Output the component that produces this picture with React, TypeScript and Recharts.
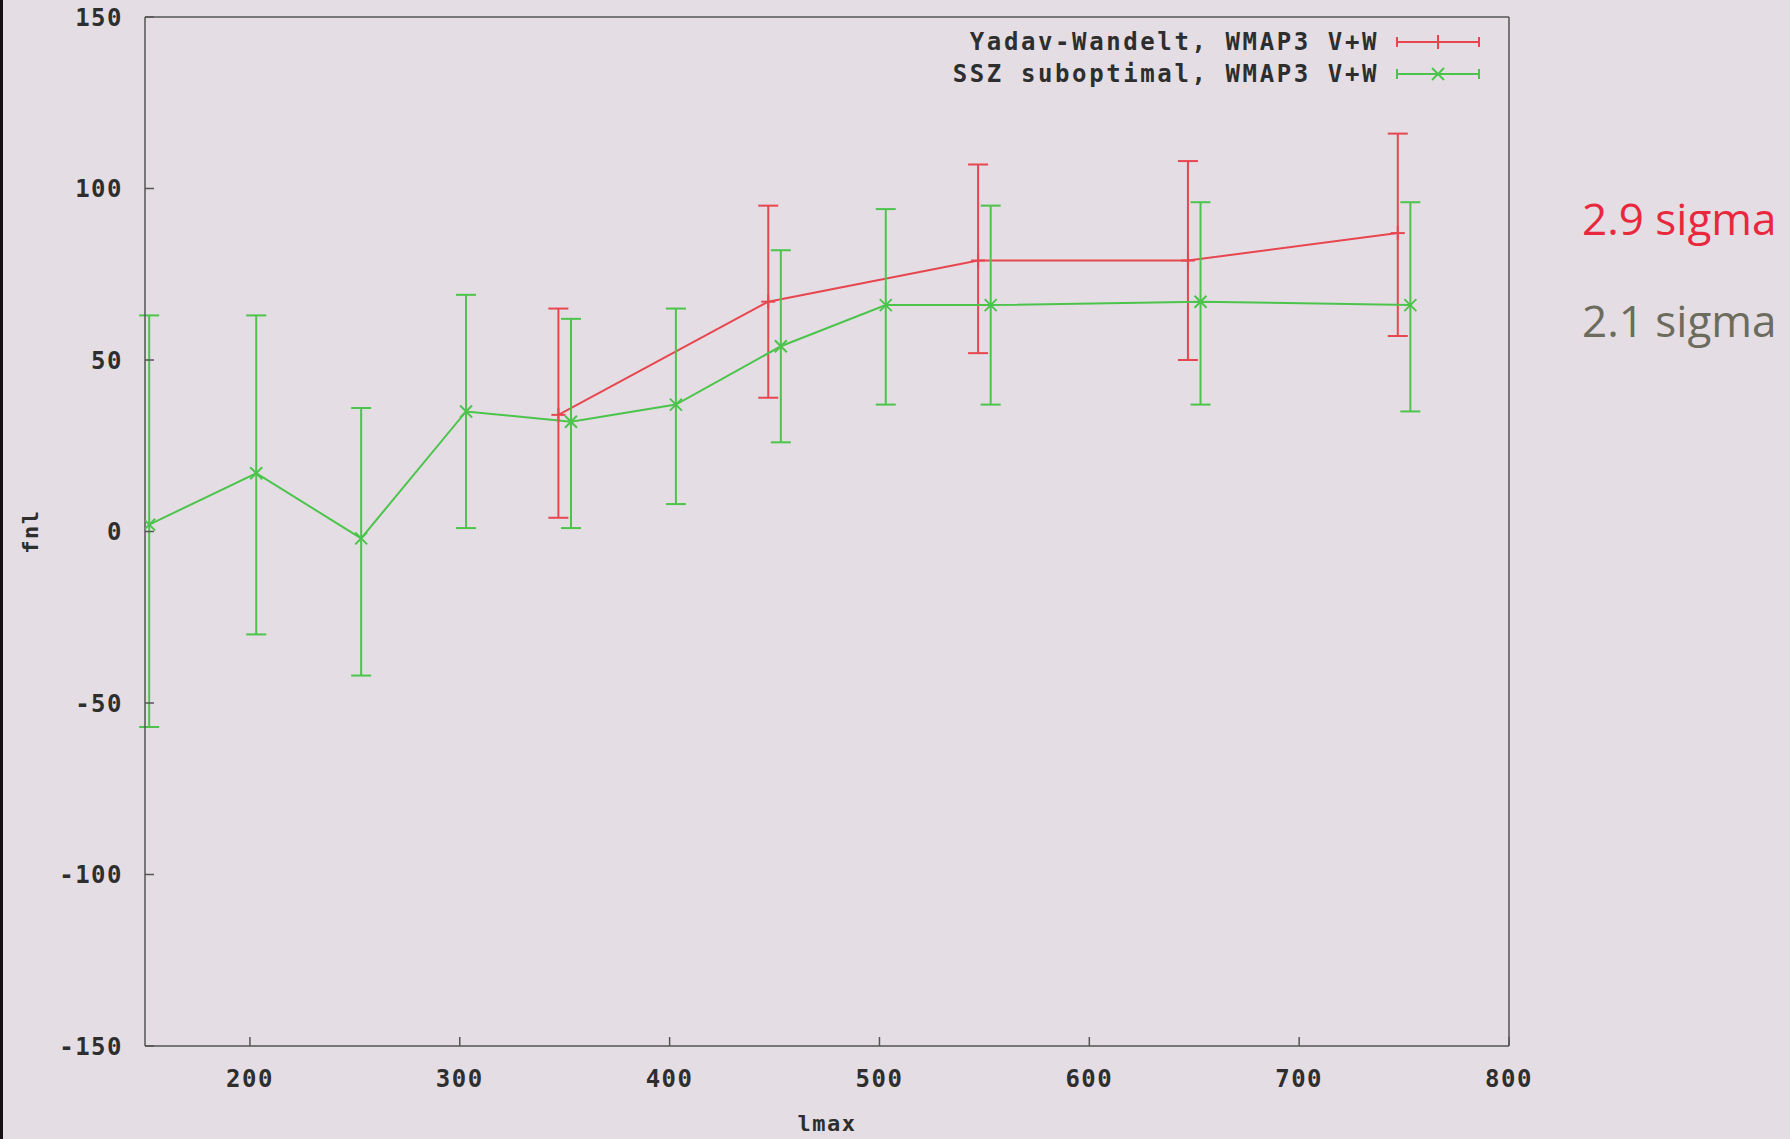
import { ComposedChart, Line, XAxis, YAxis, ErrorBar, Legend } from 'recharts'

// Yadav-Wandelt estimator (red)
const YW_LMAX = [347, 447, 547, 647, 747]
const YW_FNL = [34, 67, 79, 79, 87]
const YW_LOW = [4, 39, 52, 50, 57]
const YW_HIGH = [65, 95, 107, 108, 116]

// SSZ suboptimal estimator (green)
const SSZ_LMAX = [152, 203, 253, 303, 353, 403, 453, 503, 553, 653, 753]
const SSZ_FNL = [2, 17, -2, 35, 32, 37, 54, 66, 66, 67, 66]
const SSZ_LOW = [-57, -30, -42, 1, 1, 8, 26, 37, 37, 37, 35]
const SSZ_HIGH = [63, 63, 36, 69, 62, 65, 82, 94, 95, 96, 96]

const X_TICKS = [200, 300, 400, 500, 600, 700, 800]
const Y_TICKS = [-150, -100, -50, 0, 50, 100, 150]

const YW_NAME = 'Yadav-Wandelt, WMAP3 V+W'
const SSZ_NAME = 'SSZ suboptimal, WMAP3 V+W'

const RED = '#e8464f'
const GREEN = '#4cc44c'
const BG = '#e4dee4'
const AXIS = '#555'
const MONO = '"DejaVu Sans Mono", "Liberation Mono", monospace'

const build = (xs: number[], ys: number[], lo: number[], hi: number[]) =>
  xs.map((x, i) => ({ lmax: x, fnl: ys[i], err: [ys[i] - lo[i], hi[i] - ys[i]] }))

const ywData = build(YW_LMAX, YW_FNL, YW_LOW, YW_HIGH)
const sszData = build(SSZ_LMAX, SSZ_FNL, SSZ_LOW, SSZ_HIGH)

const marker = (color: string, diag: boolean) => (p: any) => {
  const { cx, cy, index } = p
  const s = diag ? 6 : 7
  if (diag) {
    return (
      <g key={index}>
        <line x1={cx - s} y1={cy - s} x2={cx + s} y2={cy + s} stroke={color} strokeWidth={2} />
        <line x1={cx - s} y1={cy + s} x2={cx + s} y2={cy - s} stroke={color} strokeWidth={2} />
      </g>
    )
  }
  return (
    <g key={index}>
      <line x1={cx - s} y1={cy} x2={cx + s} y2={cy} stroke={color} strokeWidth={2} />
      <line x1={cx} y1={cy - s} x2={cx} y2={cy + s} stroke={color} strokeWidth={2} />
    </g>
  )
}

const tickStyle = { fontFamily: MONO, fontWeight: 700, fontSize: 24, fill: '#2e2e2e', letterSpacing: 1.5 }

function LegendSample({ color, diag }: { color: string; diag: boolean }) {
  return (
    <svg width={84} height={20} style={{ marginLeft: 17 }}>
      <line x1={1} y1={10} x2={83} y2={10} stroke={color} strokeWidth={2} />
      <line x1={1} y1={5} x2={1} y2={15} stroke={color} strokeWidth={2} />
      <line x1={83} y1={5} x2={83} y2={15} stroke={color} strokeWidth={2} />
      {marker(color, diag)({ cx: 42, cy: 10, index: 0 })}
    </svg>
  )
}

function ChartLegend() {
  const rows = [
    { name: YW_NAME, color: RED, diag: false },
    { name: SSZ_NAME, color: GREEN, diag: true },
  ]
  return (
    <div>
      {rows.map((r) => (
        <div key={r.name} style={{ display: 'flex', justifyContent: 'flex-end', alignItems: 'center', height: 32 }}>
          <span style={{ fontFamily: MONO, fontWeight: 700, fontSize: 24, letterSpacing: 2.6, color: '#2e2e2e', whiteSpace: 'pre' }}>
            {r.name}
          </span>
          <LegendSample color={r.color} diag={r.diag} />
        </div>
      ))}
    </div>
  )
}

export default function App() {
  return (
    <div style={{ position: 'fixed', left: 0, top: 0, width: 1790, height: 1139, background: BG, overflow: 'hidden' }}>
      <div style={{ position: 'absolute', left: 0, top: 0, width: 3, height: 1139, background: '#111' }} />
      <ComposedChart width={1790} height={1139} margin={{ top: 16, right: 280, bottom: 6, left: 45 }}>
        <XAxis
          dataKey="lmax"
          type="number"
          domain={[150, 800]}
          ticks={X_TICKS}
          allowDataOverflow
          height={87}
          stroke={AXIS}
          strokeWidth={1.5}
          tickSize={-9}
          tickMargin={33}
          tick={tickStyle}
          label={{ value: 'lmax', position: 'insideBottom', offset: 2, style: { ...tickStyle, fontSize: 22 } }}
        />
        <XAxis
          xAxisId="top"
          orientation="top"
          type="number"
          domain={[150, 800]}
          ticks={X_TICKS}
          allowDataOverflow
          height={1}
          stroke={AXIS}
          strokeWidth={1.5}
          tickSize={-9}
          tick={false}
        />
        <YAxis
          type="number"
          domain={[-150, 150]}
          ticks={Y_TICKS}
          allowDataOverflow
          width={100}
          stroke={AXIS}
          strokeWidth={1.5}
          tickSize={-9}
          tickMargin={31}
          tick={tickStyle}
          label={{
            content: (props: any) => {
              const vb = props.viewBox || { x: 45, y: 17, height: 1029 }
              const x = vb.x - 13
              const y = vb.y + vb.height / 2
              return (
                <text x={x} y={y} transform={`rotate(-90 ${x} ${y})`} textAnchor="middle" dominantBaseline="middle" style={{ ...tickStyle, fontSize: 22 }}>
                  fnl
                </text>
              )
            },
          }}
        />
        <YAxis
          yAxisId="right"
          orientation="right"
          type="number"
          domain={[-150, 150]}
          ticks={Y_TICKS}
          width={1}
          stroke={AXIS}
          strokeWidth={1.5}
          tickSize={-9}
          tick={false}
        />
        <Legend
          layout="vertical"
          align="center"
          verticalAlign="middle"
          wrapperStyle={{ left: 880, top: 26, width: 600 }}
          content={() => <ChartLegend />}
        />
        <Line
          data={ywData}
          dataKey="fnl"
          name={YW_NAME}
          stroke={RED}
          strokeWidth={2}
          dot={marker(RED, false)}
          activeDot={false}
          isAnimationActive={false}
        >
          <ErrorBar dataKey="err" width={10} stroke={RED} strokeWidth={2} direction="y" isAnimationActive={false} />
        </Line>
        <Line
          data={sszData}
          dataKey="fnl"
          name={SSZ_NAME}
          stroke={GREEN}
          strokeWidth={2}
          dot={marker(GREEN, true)}
          activeDot={false}
          isAnimationActive={false}
        >
          <ErrorBar dataKey="err" width={10} stroke={GREEN} strokeWidth={2} direction="y" isAnimationActive={false} />
        </Line>
      </ComposedChart>
      <div style={{ position: 'absolute', left: 1582, top: 196, fontFamily: '"Open Sans", sans-serif', fontSize: 44, lineHeight: '44px', color: '#e8283c', whiteSpace: 'nowrap' }}>
        2.9 sigma
      </div>
      <div style={{ position: 'absolute', left: 1582, top: 298, fontFamily: '"Open Sans", sans-serif', fontSize: 44, lineHeight: '44px', color: '#6b6b5e', whiteSpace: 'nowrap' }}>
        2.1 sigma
      </div>
    </div>
  )
}
